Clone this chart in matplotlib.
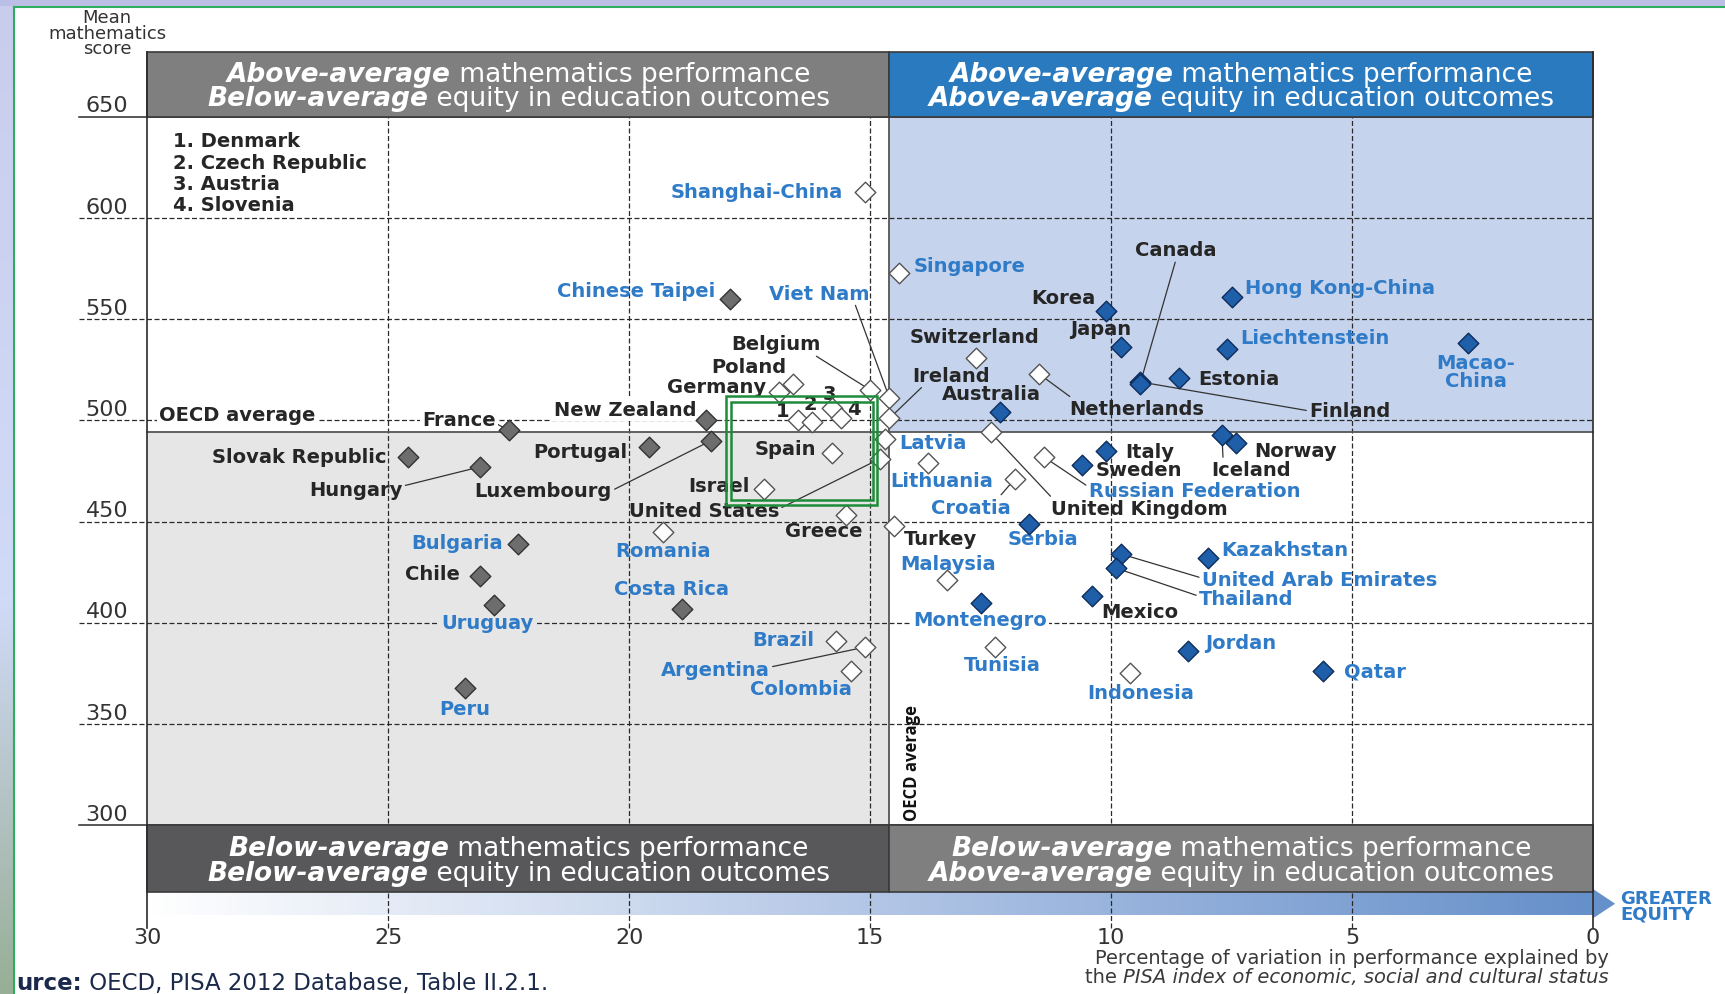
import matplotlib
matplotlib.use("Agg")
import matplotlib.pyplot as plt
import matplotlib.transforms as mtransforms
from matplotlib.colors import LinearSegmentedColormap
from matplotlib.lines import Line2D
from matplotlib.patches import Polygon, Rectangle
import numpy as np

# PISA 2012: mean mathematics score vs. % of variation explained by ESCS
countries = [
    "Shanghai-China", "Singapore", "Hong Kong-China", "Chinese Taipei", "Korea",
    "Macao-China", "Japan", "Liechtenstein", "Switzerland", "Netherlands",
    "Estonia", "Finland", "Canada", "Poland", "Belgium", "Germany", "Viet Nam",
    "Austria", "Australia", "Ireland", "Slovenia", "Denmark", "New Zealand",
    "Czech Republic", "France", "United Kingdom", "Iceland", "Latvia",
    "Luxembourg", "Norway", "Portugal", "Italy", "Spain", "Russian Federation",
    "Slovak Republic", "United States", "Lithuania", "Sweden", "Hungary",
    "Croatia", "Israel", "Greece", "Serbia", "Turkey", "Romania", "Bulgaria",
    "United Arab Emirates", "Kazakhstan", "Thailand", "Chile", "Malaysia",
    "Mexico", "Montenegro", "Uruguay", "Costa Rica", "Brazil", "Argentina",
    "Tunisia", "Jordan", "Colombia", "Qatar", "Indonesia", "Peru",
]
equity = [
    15.1, 14.4, 7.5, 17.9, 10.1, 2.6, 9.8, 7.6, 12.8, 11.5,
    8.6, 9.4, 9.4, 16.6, 15.0, 16.9, 14.6, 15.8, 12.3, 14.6,
    15.6, 16.5, 18.4, 16.2, 22.5, 12.5, 7.7, 14.7, 18.3, 7.4,
    19.6, 10.1, 15.8, 11.4, 24.6, 14.8, 13.8, 10.6, 23.1, 12.0,
    17.2, 15.5, 11.7, 14.5, 19.3, 22.3, 9.8, 8.0, 9.9, 23.1,
    13.4, 10.4, 12.7, 22.8, 18.9, 15.7, 15.1, 12.4, 8.4, 15.4,
    5.6, 9.6, 23.4,
]
maths = [
    613, 573, 561, 560, 554, 538, 536, 535, 531, 523,
    521, 519, 518, 518, 515, 514, 511, 506, 504, 501,
    501, 500, 500, 499, 495, 494, 493, 491, 490, 489,
    487, 485, 484, 482, 482, 481, 479, 478, 477, 471,
    466, 453, 449, 448, 445, 439, 434, 432, 427, 423,
    421, 413, 410, 409, 407, 391, 388, 388, 386, 376,
    376, 375, 368,
]
# strength of the ESCS relationship vs. the OECD average
strength = [
    "same", "same", "below", "above", "below", "below", "below", "below", "same", "same",
    "below", "below", "below", "same", "same", "same", "same", "same", "below", "same",
    "same", "same", "above", "same", "above", "same", "below", "same", "above", "below",
    "above", "below", "same", "same", "above", "same", "same", "below", "above", "same",
    "same", "same", "below", "same", "same", "above", "below", "below", "below", "above",
    "same", "below", "below", "above", "above", "same", "same", "same", "below", "same",
    "below", "same", "above",
]
partners = {
    "Shanghai-China", "Singapore", "Hong Kong-China", "Chinese Taipei", "Macao-China",
    "Liechtenstein", "Viet Nam", "Latvia", "Russian Federation", "Lithuania", "Croatia",
    "Serbia", "Romania", "Bulgaria", "United Arab Emirates", "Kazakhstan", "Thailand",
    "Malaysia", "Montenegro", "Uruguay", "Costa Rica", "Brazil", "Argentina", "Tunisia",
    "Jordan", "Colombia", "Qatar", "Indonesia", "Peru",
}
numbered = ["Denmark", "Czech Republic", "Austria", "Slovenia"]

OECD_EQUITY = 14.6
OECD_MATHS = 494

x_ticks = [30, 25, 20, 15, 10, 5, 0]
y_ticks = [300, 350, 400, 450, 500, 550, 600, 650]

# label placement: offset in pixels from the marker, alignment, leader start, background
LABELS = {
    "Shanghai-China": (-23, 0, "right", None, None),
    "Singapore": (15, 7, "left", None, None),
    "Hong Kong-China": (13, 9, "left", None, None),
    "Chinese Taipei": (-15, 8, "right", None, None),
    "Korea": (-11, 14, "right", None, None),
    "Macao-China": (8, -28, "center", None, None),
    "Japan": (-20, 19, "center", None, None),
    "Liechtenstein": (13, 12, "left", None, None),
    "Switzerland": (-2, 21, "center", None, None),
    "Netherlands": (98, -35, "center", (0.05, 0.9), None),
    "Estonia": (20, -1, "left", None, None),
    "Finland": (169, -29, "left", (0.0, 0.5), None),
    "Canada": (36, 134, "center", (0.5, 0.0), None),
    "Poland": (-44, 17, "center", None, None),
    "Belgium": (-94, 46, "center", (0.9, 0.0), None),
    "Germany": (-13, 6, "right", None, None),
    "Viet Nam": (-20, 105, "right", (0.85, 0.0), None),
    "Austria": (-2, 15, "center", None, None),
    "Australia": (-9, 19, "center", None, None),
    "Ireland": (62, 43, "center", (0.15, 0.0), None),
    "Slovenia": (13, 10, "center", None, None),
    "Denmark": (-15, 10, "center", None, None),
    "New Zealand": (-81, 11, "center", None, "white"),
    "Czech Republic": (-2, 19, "center", None, None),
    "France": (-50, 11, "center", (1.0, 0.3), "white"),
    "United Kingdom": (149, -76, "center", (0.02, 0.9), None),
    "Iceland": (29, -35, "center", (0.15, 1.0), None),
    "Latvia": (15, -4, "left", None, None),
    "Luxembourg": (-168, -50, "center", (1.0, 0.5), None),
    "Norway": (18, -8, "left", None, None),
    "Portugal": (-21, -5, "right", None, None),
    "Italy": (19, -1, "left", None, None),
    "Spain": (-16, 4, "right", None, None),
    "Russian Federation": (45, -34, "left", (0.0, 0.7), None),
    "Slovak Republic": (-21, 0, "right", None, None),
    "United States": (-176, -52, "center", (1.0, 0.6), None),
    "Lithuania": (14, -18, "center", None, None),
    "Sweden": (13, -5, "left", None, None),
    "Hungary": (-124, -23, "center", (1.0, 0.7), None),
    "Croatia": (-44, -28, "center", (0.85, 1.0), None),
    "Israel": (-15, 4, "right", None, None),
    "Greece": (-22, -15, "center", None, None),
    "Serbia": (14, -15, "center", None, None),
    "Turkey": (46, -13, "center", None, None),
    "Romania": (0, -19, "center", None, None),
    "Bulgaria": (-16, 1, "right", None, None),
    "United Arab Emirates": (81, -26, "left", (0.0, 0.6), None),
    "Kazakhstan": (14, 8, "left", None, None),
    "Thailand": (83, -30, "left", (0.0, 0.6), None),
    "Chile": (-20, 3, "right", None, None),
    "Malaysia": (1, 17, "center", None, None),
    "Mexico": (48, -15, "center", None, None),
    "Montenegro": (-1, -17, "center", None, "white"),
    "Uruguay": (-7, -18, "center", None, "#E6E6E6"),
    "Costa Rica": (-11, 20, "center", None, None),
    "Brazil": (-22, 1, "right", None, None),
    "Argentina": (-150, -22, "center", (1.0, 0.6), None),
    "Tunisia": (7, -17, "center", None, None),
    "Jordan": (17, 9, "left", None, None),
    "Colombia": (-50, -17, "center", None, None),
    "Qatar": (21, 0, "left", None, None),
    "Indonesia": (10, -19, "center", None, None),
    "Peru": (-1, -21, "center", None, None),
}

plt.rcParams["font.family"] = ["DejaVu Sans"]
LABEL_SIZE = 14

W, H = 1725, 995
fig = plt.figure(figsize=(W / 100, H / 100), dpi=100)
ax = fig.add_axes([0, 0, 1, 1])
ax.set_axis_off()
XL, XR, YB, YT = 33.06, -2.74, 216.6, 708.15

BLUE_TXT = "#2F7BC8"
DARK_TXT = "#262626"
GRID = "#2a2a2a"
marker_fill = {"above": "#6D6D6D", "same": "white", "below": "#1F5FAA"}
marker_edge = {"above": "#333333", "same": "#555555", "below": "#0D2C5A"}

# quadrant backgrounds
ax.add_patch(Rectangle((OECD_EQUITY, OECD_MATHS), -OECD_EQUITY, 650 - OECD_MATHS,
                       fc="#C5D3EC", ec="none", zorder=0))
ax.add_patch(Rectangle((30, 300), OECD_EQUITY - 30, OECD_MATHS - 300,
                       fc="#E6E6E6", ec="none", zorder=0))

# equity arrow under the chart
arrow_cmap = LinearSegmentedColormap.from_list("eq", ["#FFFFFF", "#B3C6E6", "#6690CA"])
ax.imshow(np.linspace(0, 1, 256)[None, :], extent=(30, 0, 255.5, 266.8),
          cmap=arrow_cmap, aspect="auto", zorder=0.5)
ax.add_patch(Polygon([(0, 254.0), (0, 268.5), (-0.46, 261.2)], closed=True,
                     fc="#6690CA", ec="none", zorder=0.5))
ax.text(-0.57, 260.3, "GREATER\nEQUITY", color=BLUE_TXT, fontsize=13,
        fontweight="bold", ha="left", va="center", linespacing=0.85, zorder=8)

# grid
dash = (0, (4, 2))
for t in y_ticks:
    solid = t in (300, 650)
    ax.plot([31.42, 0], [t, t], color=GRID, lw=1.1 if solid else 0.9,
            ls="-" if solid else dash, zorder=1)
    ax.text(30.84, t + 5.6, str(t), fontsize=16, color="#333333",
            ha="center", va="center", zorder=8)
for t in x_ticks:
    if t in (30, 0):
        ax.plot([t, t], [249, 682.1], color=GRID, lw=1.2, zorder=5.5)
    else:
        ax.plot([t, t], [249, 650], color=GRID, lw=0.9, ls=dash, zorder=1)
    ax.text(t, 244.6, str(t), fontsize=16, color="#333333",
            ha="center", va="center", zorder=8)

# OECD average lines
ax.plot([30, 0], [OECD_MATHS, OECD_MATHS], color="#555555", lw=1.3, zorder=1.5)
ax.plot([OECD_EQUITY, OECD_EQUITY], [300, 650], color="#555555", lw=1.3, zorder=1.5)
ax.annotate("OECD average", (30, OECD_MATHS), xytext=(12, 18), textcoords="offset pixels",
            fontsize=LABEL_SIZE, fontweight="bold", color=DARK_TXT, ha="left", va="center",
            bbox=dict(boxstyle="square,pad=0.15", fc="white", ec="none"), zorder=3)
ax.annotate("OECD average", (OECD_EQUITY, 300), xytext=(23, 5), textcoords="offset pixels",
            rotation=90, fontsize=12, fontweight="bold", family="Open Sans", color="#111111",
            ha="center", va="bottom", zorder=3)

# quadrant title bands
bands = [
    (30, 650, "#7F7F7F", ("Above-average", " mathematics performance"), ("Below-average", " equity in education outcomes")),
    (OECD_EQUITY, 650, "#2A7AC0", ("Above-average", " mathematics performance"), ("Above-average", " equity in education outcomes")),
    (30, 266.8, "#58585A", ("Below-average", " mathematics performance"), ("Below-average", " equity in education outcomes")),
    (OECD_EQUITY, 266.8, "#7F7F7F", ("Below-average", " mathematics performance"), ("Above-average", " equity in education outcomes")),
]

renderer = fig.canvas.get_renderer()


def rich_text(x, y, parts, size, color, ha="center", zorder=8):
    items = []
    for s, style, weight in parts:
        t = ax.text(x, y, s, fontsize=size, color=color, style=style, fontweight=weight,
                    ha="left", va="center", zorder=zorder)
        items.append((t, t.get_window_extent(renderer).width))
    total = sum(w for _, w in items)
    start = {"left": 0.0, "center": -total / 2, "right": -total}[ha]
    for t, w in items:
        t.set_transform(mtransforms.offset_copy(ax.transData, fig=fig, x=start, y=0, units="dots"))
        start += w


for x0, y0, col, line1, line2 in bands:
    width = (OECD_EQUITY - 30) if x0 == 30 else -OECD_EQUITY
    ax.add_patch(Rectangle((x0, y0), width, 32.1 if y0 == 650 else 33.2,
                           fc=col, ec="#3A3A3A", lw=1.2, zorder=5))
    xc = x0 + width / 2
    top = y0 + (21.0 if y0 == 650 else 21.8)
    for i, (it, rest) in enumerate((line1, line2)):
        rich_text(xc, top - 12 * i, [(it, "italic", "bold"), (rest, "normal", "normal")],
                  19, "white")

# green highlight box
for (x1, x2, y1, y2) in [(17.99, 14.86, 458.2, 512.0), (17.88, 14.95, 460.4, 509.3)]:
    ax.add_patch(Rectangle((x1, y1), x2 - x1, y2 - y1, fc="none", ec="#1E8B3A",
                           lw=1.8, zorder=6))

# markers
for key in ("above", "same", "below"):
    xs = [e for e, s in zip(equity, strength) if s == key]
    ys = [m for m, s in zip(maths, strength) if s == key]
    ax.scatter(xs, ys, marker="D", s=110, c=marker_fill[key], edgecolors=marker_edge[key],
               linewidths=1.0, zorder=4)

# country labels
for name, xv, yv in zip(countries, equity, maths):
    dx, dy, ha, rel, bg = LABELS[name]
    text = str(numbered.index(name) + 1) if name in numbered else name
    if name == "Macao-China":
        text = "Macao-\nChina"
    kw = {}
    if rel is not None:
        kw["arrowprops"] = dict(arrowstyle="-", color="#333333", lw=0.9,
                                shrinkA=0, shrinkB=0, relpos=rel)
    if bg is not None:
        kw["bbox"] = dict(boxstyle="square,pad=0.1", fc=bg, ec="none")
    ax.annotate(text, (xv, yv), xytext=(dx, dy), textcoords="offset pixels",
                ha=ha, va="center", multialignment="center", linespacing=0.9,
                fontsize=LABEL_SIZE, fontweight="bold",
                color=BLUE_TXT if name in partners else DARK_TXT, zorder=3, **kw)

# numbered key
for i, name in enumerate(numbered):
    ax.annotate(f"{i + 1}. {name}", (30, 650), xytext=(26, -24 - 21.3 * i),
                textcoords="offset pixels", fontsize=LABEL_SIZE, fontweight="bold",
                color=DARK_TXT, ha="left", va="center", zorder=3)

# axis titles
ax.text(30.84, 691.5, "Mean\nmathematics\nscore", fontsize=13, color="#333333",
        ha="center", va="center", linespacing=0.82, zorder=8)
rich_text(-0.32, 234.8, [("Percentage of variation in performance explained by", "normal", "normal")],
          14, "#3A3A3A", ha="right")
rich_text(-0.32, 225.0, [("the ", "normal", "normal"),
                         ("PISA index of economic, social and cultural status", "italic", "normal")],
          14, "#3A3A3A", ha="right")

# source (cut off by the slide edge)
rich_text(32.73, 222.3, [("urce:", "normal", "bold"),
                         (" OECD, PISA 2012 Database, Table II.2.1.", "normal", "normal")],
          16.5, "#1B2A4A", ha="left")

ax.set_xlim(XL, XR)
ax.set_ylim(YB, YT)

# slide frame
fig.add_artist(Rectangle((0, 1 - 7 / H), 1, 7 / H, transform=fig.transFigure,
                         fc="#BCBFE5", ec="none", zorder=10))
side = fig.add_axes([0, 0, 13 / W, 1 - 7 / H])
side.set_axis_off()
side_cmap = LinearSegmentedColormap.from_list(
    "side", [(0, "#C9CDED"), (0.6, "#D0DBF8"), (0.8, "#B4C4C6"), (1, "#97AF96")])
side.imshow(np.linspace(0, 1, 256)[:, None], aspect="auto", cmap=side_cmap)
fig.add_artist(Line2D([13.5 / W, 13.5 / W], [0, 1 - 7.5 / H], transform=fig.transFigure,
                      color="#2EAD5E", lw=1.5, zorder=11))
fig.add_artist(Line2D([13.5 / W, 1], [1 - 7.5 / H, 1 - 7.5 / H], transform=fig.transFigure,
                      color="#2EAD5E", lw=1.5, zorder=11))

fig.savefig("out.png", dpi=100)
